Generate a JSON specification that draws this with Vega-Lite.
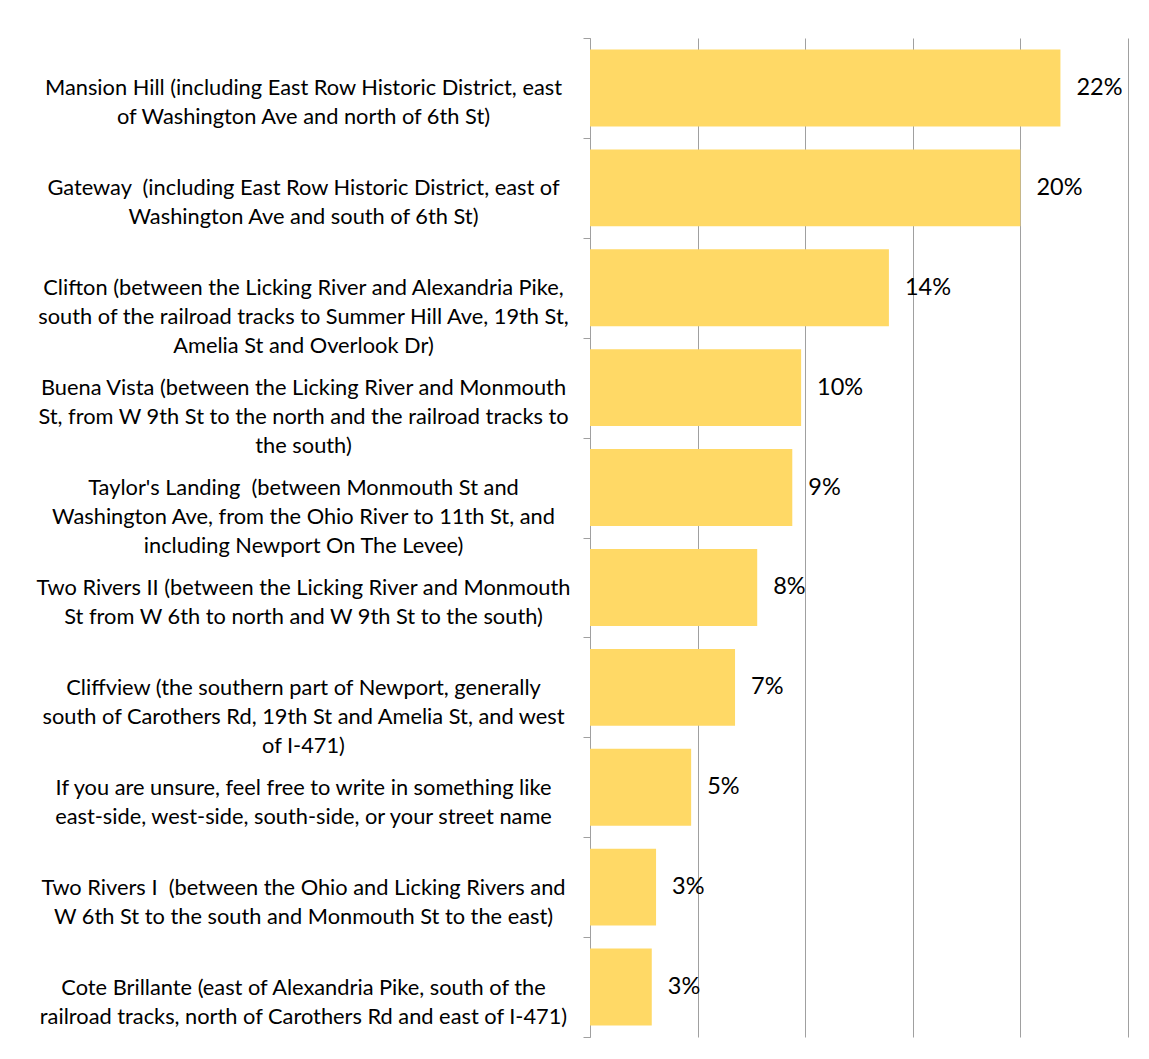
{
  "$schema": "https://vega.github.io/schema/vega-lite/v6.json",
  "autosize": {"type": "none"},
  "padding": {"left": 590, "top": 38, "right": 21, "bottom": 22},
  "width": 538,
  "height": 999,
  "background": "white",
  "config": {"view": {"stroke": null}, "font": "Lato"},
  "data": {
    "values": [
      {"area": "Mansion Hill (including East Row Historic District, east|of Washington Ave and north of 6th St)", "share": 0.2186},
      {"area": "Gateway \u00a0(including East Row Historic District, east of|Washington Ave and south of 6th St)", "share": 0.2000},
      {"area": "Clifton (between the Licking River and Alexandria Pike,|south of the railroad tracks to Summer Hill Ave, 19th St,|Amelia St and Overlook Dr)", "share": 0.1389},
      {"area": "Buena Vista (between the Licking River and Monmouth|St, from W 9th St to the north and the railroad tracks to|the south)", "share": 0.0981},
      {"area": "Taylor's Landing \u00a0(between Monmouth St and|Washington Ave, from the Ohio River to 11th St, and|including Newport On The Levee)", "share": 0.0940},
      {"area": "Two Rivers II (between the Licking River and Monmouth|St from W 6th to north and W 9th St to the south)", "share": 0.0777},
      {"area": "Cliffview (the southern part of Newport, generally|south of Carothers Rd, 19th St and Amelia St, and west|of I-471)", "share": 0.0674},
      {"area": "If you are unsure, feel free to write in something like|east-side, west-side, south-side, or your street name", "share": 0.0470},
      {"area": "Two Rivers I \u00a0(between the Ohio and Licking Rivers and|W 6th St to the south and Monmouth St to the east)", "share": 0.0307},
      {"area": "Cote Brillante (east of Alexandria Pike, south of the|railroad tracks, north of Carothers Rd and east of I-471)", "share": 0.0287}
    ]
  },
  "encoding": {
    "y": {
      "field": "area",
      "type": "nominal",
      "sort": null,
      "title": null,
      "scale": {"paddingInner": 0, "paddingOuter": 0},
      "axis": {
        "labelExpr": "split(datum.label, '|')",
        "labelAlign": "center",
        "labelBaseline": "middle",
        "labelPadding": 280,
        "labelLimit": 0,
        "labelFontSize": 21.8,
        "labelLineHeight": 29,
        "labelColor": "#000000",
        "labelFont": "Lato",
        "tickBand": "extent",
        "ticks": true,
        "tickSize": 7,
        "tickColor": "#a0a0a0",
        "tickWidth": 1,
        "domain": true,
        "domainColor": "#a0a0a0",
        "domainWidth": 1,
        "grid": false
      }
    },
    "x": {
      "field": "share",
      "type": "quantitative",
      "title": null,
      "scale": {"domain": [0, 0.25], "nice": false},
      "axis": {
        "values": [0, 0.05, 0.1, 0.15, 0.2, 0.25],
        "labels": false,
        "ticks": false,
        "domain": false,
        "grid": true,
        "gridColor": "#a0a0a0",
        "gridWidth": 1
      }
    }
  },
  "layer": [
    {"mark": {"type": "bar", "color": "#FFD966", "height": {"band": 0.77}}},
    {
      "mark": {"type": "text", "align": "left", "baseline": "middle", "dx": 16, "fontSize": 23.5, "font": "Lato", "color": "#000000"},
      "encoding": {"text": {"field": "share", "type": "quantitative", "format": ".0%"}}
    }
  ]
}
